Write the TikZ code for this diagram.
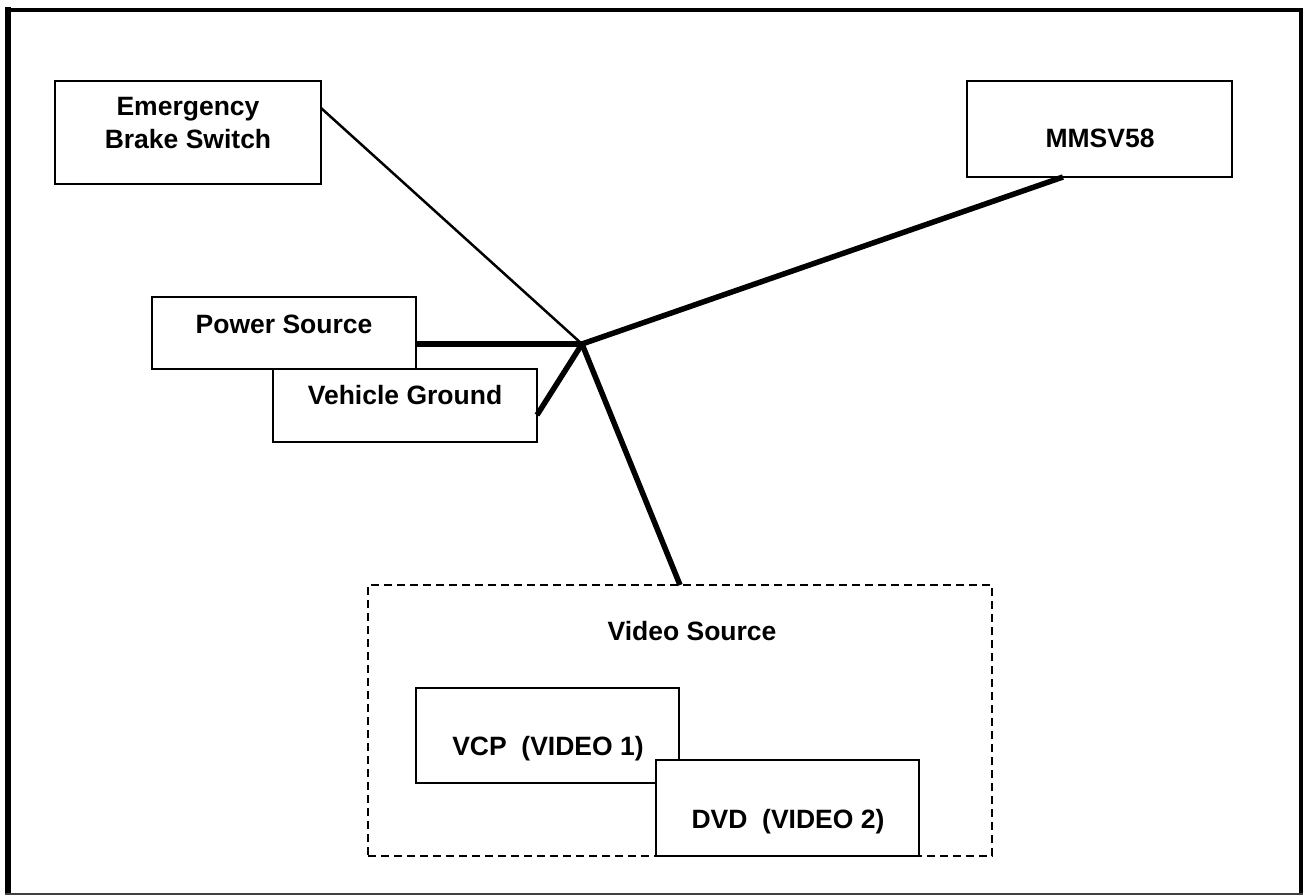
\documentclass[tikz,border=0pt]{standalone}
\usepackage{fontspec}
\setmainfont{Liberation Sans}
\begin{document}
\begin{tikzpicture}[x=1pt,y=-1pt,
  box/.style={draw,line width=2pt,minimum width=#1,inner sep=0pt,outer sep=0pt,anchor=north west},
  dbox/.style={draw,line width=1.6pt,dash pattern=on 8pt off 5pt,inner sep=0pt,outer sep=0pt,anchor=north west},
  lbl/.style={font=\fontsize{26.5}{33}\selectfont\bfseries,inner sep=0pt,anchor=base,align=center},
  wire/.style={line width=5.5pt},
  thinwire/.style={line width=2.5pt}]
\useasboundingbox (0,0) rectangle (1303,895);
% outer frame
\draw[line width=6pt] (8,7) -- (8,895);
\draw[line width=4pt] (5,10) -- (1303,10);
\draw[line width=3.5pt] (1301,8) -- (1301,895);
\draw[line width=1.5pt,black!75] (5,894) -- (1303,894);
% boxes
\node[box=266pt,minimum height=103pt] (emg) at (55,81) {};
\node[box=265pt,minimum height=96pt] (mmsv) at (967,81) {};
\node[box=264pt,minimum height=72pt] (pwr) at (152,297) {};
\node[box=264pt,minimum height=73pt] (veh) at (273,369) {};
\node[dbox,minimum width=624pt,minimum height=271pt] (vid) at (368,585) {};
\node[box=263pt,minimum height=95pt] (vcp) at (416,688) {};
\node[box=263pt,minimum height=96pt,fill=white] (dvd) at (656,760) {};
% labels
\node[lbl] (temg) at (188,148) {Emergency\\Brake Switch};
\node[lbl] (tmmsv) at (1100,147) {MMSV58};
\node[lbl] (tpwr) at (284,333) {Power Source};
\node[lbl] (tveh) at (405,404) {Vehicle Ground};
\node[lbl] (tvid) at (692,640) {Video Source};
\node[lbl] (tvcp) at (548,755) {VCP\ \ (VIDEO 1)};
\node[lbl] (tdvd) at (788,828) {DVD\ \ (VIDEO 2)};
% wires
\coordinate (hub) at (582,344);
\draw[thinwire] ([yshift=-27pt]emg.north east) -- (hub);
\draw[wire] (pwr.east |- hub) -- (hub);
\draw[wire] ([yshift=27pt]veh.south east) -- (hub);
\draw[wire] ([xshift=96pt]mmsv.south west) -- (hub);
\draw[wire] (hub) -- (vid.north -| 680,0);
\end{tikzpicture}
\end{document}
